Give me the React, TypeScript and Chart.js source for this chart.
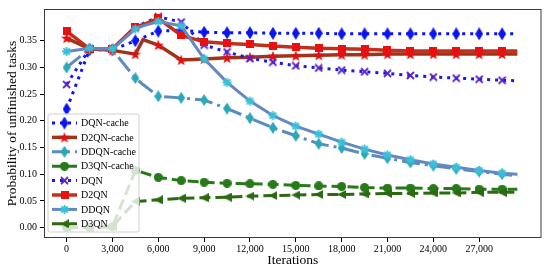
import React, { useEffect, useRef } from "react";
import { Chart, registerables } from "chart.js";

Chart.register(...registerables);

const iterations = [0, 1500, 3000, 4500, 5000, 6000, 7500, 9000, 10500, 12000, 13500, 15000, 16500, 18000, 19500, 21000, 22500, 24000, 25500, 27000, 28500, 29500];

const dqnCache = [0.222, 0.333, 0.333, 0.350, 0.356, 0.368, 0.370, 0.366, 0.365, 0.365, 0.364, 0.364, 0.364, 0.363, 0.363, 0.363, 0.363, 0.363, 0.363, 0.363, 0.363, 0.363];
const d2qnCache = [0.355, 0.335, 0.332, 0.325, 0.352, 0.342, 0.314, 0.316, 0.318, 0.319, 0.321, 0.322, 0.323, 0.324, 0.324, 0.325, 0.325, 0.325, 0.325, 0.325, 0.325, 0.325];
const ddqnCache = [0.300, 0.335, 0.333, 0.280, 0.268, 0.246, 0.243, 0.239, 0.223, 0.205, 0.187, 0.172, 0.157, 0.149, 0.138, 0.130, 0.122, 0.116, 0.110, 0.105, 0.100, 0.097];
const d3qnCache = [0.000, 0.000, 0.002, 0.107, 0.103, 0.094, 0.088, 0.085, 0.083, 0.082, 0.081, 0.079, 0.078, 0.077, 0.075, 0.074, 0.074, 0.073, 0.073, 0.072, 0.072, 0.072];
const dqn = [0.268, 0.335, 0.335, 0.375, 0.382, 0.395, 0.385, 0.342, 0.329, 0.317, 0.310, 0.303, 0.299, 0.295, 0.292, 0.289, 0.285, 0.282, 0.280, 0.278, 0.276, 0.275];
const d2qn = [0.368, 0.335, 0.335, 0.376, 0.380, 0.392, 0.360, 0.348, 0.345, 0.343, 0.340, 0.338, 0.336, 0.335, 0.334, 0.332, 0.331, 0.331, 0.331, 0.331, 0.331, 0.331];
const ddqn = [0.330, 0.336, 0.335, 0.372, 0.378, 0.386, 0.378, 0.316, 0.272, 0.237, 0.210, 0.190, 0.175, 0.160, 0.147, 0.136, 0.127, 0.119, 0.113, 0.107, 0.102, 0.100];
const d3qn = [0.000, 0.000, 0.002, 0.049, 0.050, 0.052, 0.055, 0.056, 0.057, 0.059, 0.060, 0.061, 0.062, 0.062, 0.063, 0.064, 0.064, 0.065, 0.065, 0.066, 0.066, 0.066];

const xTicks = [0, 3000, 6000, 9000, 12000, 15000, 18000, 21000, 24000, 27000];
const yTicks = [0, 0.05, 0.1, 0.15, 0.2, 0.25, 0.3, 0.35];

const seriesNames = ["DQN-cache", "D2QN-cache", "DDQN-cache", "D3QN-cache", "DQN", "D2QN", "DDQN", "D3QN"];
const seriesValues = [dqnCache, d2qnCache, ddqnCache, d3qnCache, dqn, d2qn, ddqn, d3qn];

type Ctx = CanvasRenderingContext2D;

function makeMarker(w: number, h: number, draw: (c: Ctx) => void): HTMLCanvasElement {
  const c = document.createElement("canvas");
  c.width = w;
  c.height = h;
  const ctx = c.getContext("2d") as Ctx;
  draw(ctx);
  return c;
}

function thinDiamond(color: string, w: number, h: number) {
  return makeMarker(w, h, (c) => {
    c.fillStyle = color;
    c.beginPath();
    c.moveTo(w / 2, 0);
    c.lineTo(w, h / 2);
    c.lineTo(w / 2, h);
    c.lineTo(0, h / 2);
    c.closePath();
    c.fill();
  });
}

function star(color: string, s: number) {
  return makeMarker(s, s, (c) => {
    c.fillStyle = color;
    c.beginPath();
    const R = s / 2, r = s * 0.2;
    for (let i = 0; i < 10; i++) {
      const a = -Math.PI / 2 + (i * Math.PI) / 5;
      const rr = i % 2 === 0 ? R : r;
      const px = s / 2 + rr * Math.cos(a);
      const py = s / 2 + 0.5 + rr * Math.sin(a);
      if (i === 0) c.moveTo(px, py); else c.lineTo(px, py);
    }
    c.closePath();
    c.fill();
  });
}

function circle(color: string, s: number) {
  return makeMarker(s, s, (c) => {
    c.fillStyle = color;
    c.beginPath();
    c.arc(s / 2, s / 2, s / 2, 0, Math.PI * 2);
    c.fill();
  });
}

function square(color: string, s: number) {
  return makeMarker(s, s, (c) => {
    c.fillStyle = color;
    c.fillRect(0, 0, s, s);
  });
}

function cross(color: string, s: number, lw: number) {
  return makeMarker(s, s, (c) => {
    c.strokeStyle = color;
    c.lineWidth = lw;
    c.beginPath();
    c.moveTo(1, 1); c.lineTo(s - 1, s - 1);
    c.moveTo(s - 1, 1); c.lineTo(1, s - 1);
    c.stroke();
  });
}

function asterisk(color: string, s: number, lw: number) {
  return makeMarker(s, s, (c) => {
    c.strokeStyle = color;
    c.lineWidth = lw;
    c.beginPath();
    const m = s / 2, r = s / 2 - 1;
    for (let i = 0; i < 4; i++) {
      const a = (i * Math.PI) / 4;
      c.moveTo(m - r * Math.cos(a), m - r * Math.sin(a));
      c.lineTo(m + r * Math.cos(a), m + r * Math.sin(a));
    }
    c.stroke();
  });
}

function triLeft(color: string, s: number) {
  return makeMarker(s, s, (c) => {
    c.fillStyle = color;
    c.beginPath();
    c.moveTo(0, s / 2);
    c.lineTo(s, 0);
    c.lineTo(s, s);
    c.closePath();
    c.fill();
  });
}

export default function App() {
  const ref = useRef<HTMLCanvasElement | null>(null);

  useEffect(() => {
    document.body.style.margin = "0";
    const canvas = ref.current;
    if (!canvas) return;

    const styles = [
      { color: "#0a14f0", width: 3, dash: [3, 5], marker: thinDiamond("#0a14f0", 8, 13) },
      { color: "#a0341a", width: 3.5, dash: [], marker: star("#e01010", 12) },
      { color: "#5a8cc0", width: 3, dash: [18, 5, 3, 5], marker: thinDiamond("#2aa8b8", 8, 12) },
      { color: "#277a18", width: 3, dash: [11, 5], marker: circle("#277a18", 9) },
      { color: "#1a1ae0", width: 3, dash: [3, 5], marker: cross("#5a22c8", 9, 1.8) },
      { color: "#c0301c", width: 3.5, dash: [], marker: square("#e81010", 8) },
      { color: "#6488c4", width: 3, dash: [], marker: asterisk("#38c0d8", 11, 1.8) },
      { color: "#2c6a12", width: 3, dash: [11, 5], marker: triLeft("#2c6a12", 9) },
    ];

    const marked = (i: number) => iterations[i] % 1500 === 0;

    const datasets = seriesNames.map((name, si) => ({
      label: name,
      data: iterations.map((x, i) => ({ x, y: seriesValues[si][i] })),
      borderColor: styles[si].color,
      backgroundColor: styles[si].color,
      borderWidth: styles[si].width,
      borderDash: styles[si].dash,
      borderCapStyle: "butt" as const,
      pointStyle: styles[si].marker,
      pointRadius: (c: any) => (marked(c.dataIndex) ? 5 : 0),
      pointHoverRadius: 0,
      tension: 0,
      fill: false,
      order: seriesNames.length - si,
    }));

    const framePlugin = {
      id: "frameAndLegend",
      afterDraw(chart: any) {
        const { ctx, chartArea } = chart;
        ctx.save();
        ctx.strokeStyle = "#3a3a3a";
        ctx.lineWidth = 1;
        ctx.setLineDash([]);
        ctx.strokeRect(chartArea.left + 0.5, chartArea.top + 0.5, chartArea.right - chartArea.left - 1, chartArea.bottom - chartArea.top - 1);

        // legend
        const bx = 48, by = 114, bw = 91, bh = 118;
        ctx.beginPath();
        const r = 2;
        ctx.moveTo(bx + r, by);
        ctx.lineTo(bx + bw - r, by);
        ctx.quadraticCurveTo(bx + bw, by, bx + bw, by + r);
        ctx.lineTo(bx + bw, by + bh - r);
        ctx.quadraticCurveTo(bx + bw, by + bh, bx + bw - r, by + bh);
        ctx.lineTo(bx + r, by + bh);
        ctx.quadraticCurveTo(bx, by + bh, bx, by + bh - r);
        ctx.lineTo(bx, by + r);
        ctx.quadraticCurveTo(bx, by, bx + r, by);
        ctx.closePath();
        ctx.fillStyle = "rgba(255,255,255,0.8)";
        ctx.fill();
        ctx.strokeStyle = "#d0d0d0";
        ctx.stroke();

        seriesNames.forEach((name, i) => {
          const y = 123 + i * 14.4;
          const st = styles[i];
          ctx.beginPath();
          ctx.strokeStyle = st.color;
          ctx.lineWidth = st.width;
          ctx.lineCap = "butt";
          ctx.setLineDash(st.dash);
          ctx.moveTo(52, y);
          ctx.lineTo(77, y);
          ctx.stroke();
          ctx.setLineDash([]);
          const m = st.marker;
          ctx.drawImage(m, 64.5 - m.width / 2, y - m.height / 2);
          ctx.fillStyle = "#000";
          ctx.font = '10px "Liberation Serif"';
          ctx.textBaseline = "middle";
          ctx.textAlign = "left";
          ctx.fillText(name, 81, y + 0.5);
        });
        ctx.restore();
      },
    };

    const tickFont = { family: '"Liberation Serif"', size: 10 };
    const titleFont = { family: '"Liberation Serif"', size: 13.5 };

    const chart = new Chart(canvas, {
      type: "line",
      data: { datasets: datasets as any },
      plugins: [framePlugin],
      options: {
        animation: false,
        responsive: false,
        devicePixelRatio: 1,
        layout: { padding: { top: 7, right: 4, left: 0, bottom: 0 } },
        plugins: { legend: { display: false }, tooltip: { enabled: false } },
        scales: {
          x: {
            type: "linear",
            min: -1480,
            max: 31080,
            afterFit: (s: any) => { s.height = 33; },
            afterBuildTicks: (s: any) => { s.ticks = xTicks.map((v) => ({ value: v })); },
            ticks: {
              font: tickFont,
              color: "#000",
              padding: 1,
              maxRotation: 0,
              autoSkip: false,
              callback: (v: any) => Number(v).toLocaleString("en-US"),
            },
            grid: { display: true, drawOnChartArea: false, drawTicks: true, tickLength: 4, color: "#000" },
            border: { display: false },
            title: { display: true, text: "Iterations", font: titleFont, color: "#000", padding: { top: 0, bottom: 2.5 } },
          },
          y: {
            type: "linear",
            min: -0.0195,
            max: 0.4095,
            afterFit: (s: any) => { s.width = 44; },
            afterBuildTicks: (s: any) => { s.ticks = yTicks.map((v) => ({ value: v })); },
            ticks: {
              font: tickFont,
              color: "#000",
              padding: 3,
              autoSkip: false,
              callback: (v: any) => Number(v).toFixed(2),
            },
            grid: { display: true, drawOnChartArea: false, drawTicks: true, tickLength: 4, color: "#000" },
            border: { display: false },
            title: { display: true, text: "Probability of unfinished tasks", font: titleFont, color: "#000", padding: { top: 4, bottom: 0 } },
          },
        },
      },
    });

    return () => chart.destroy();
  }, []);

  return <canvas ref={ref} width={550} height={271} style={{ display: "block" }} />;
}
